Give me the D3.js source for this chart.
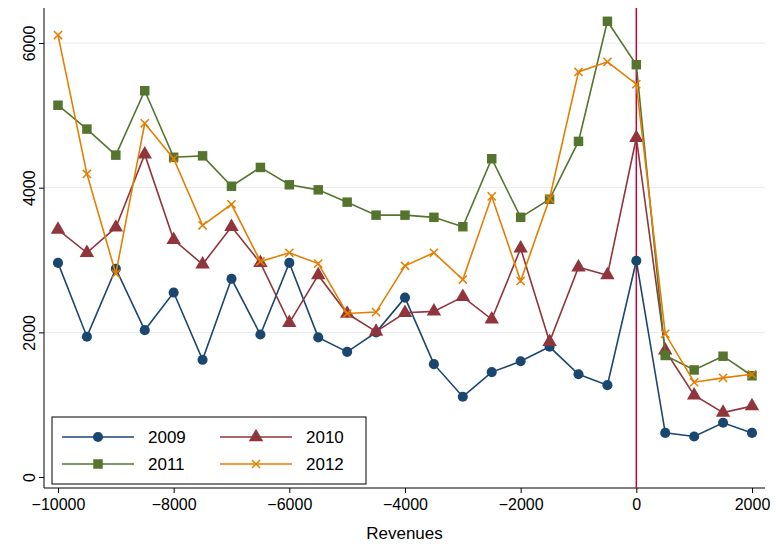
<!DOCTYPE html>
<html><head><meta charset="utf-8">
<script src="https://cdn.jsdelivr.net/npm/d3@7"></script>
<style>body{margin:0;background:#fff}text{font-family:"Liberation Sans",Arial,sans-serif}</style>
</head><body><div id="chart"></div>
<script>
const xs = d3.range(-10000, 2001, 500);
const years = ["2009", "2010", "2011", "2012"];
const v2009 = [2960,1940,2880,2030,2550,1620,2740,1970,2960,1930,1730,2000,2480,1560,1110,1450,1600,1800,1420,1270,2990,610,560,750,610];
const v2010 = [3420,3100,3450,4460,3280,2940,3460,2960,2130,2790,2260,2010,2270,2290,2490,2180,3160,1870,2900,2790,4690,1750,1130,890,980];
const v2011 = [5140,4810,4450,5340,4420,4440,4020,4280,4040,3970,3800,3620,3620,3590,3460,4400,3590,3840,4640,6300,5700,1680,1480,1670,1400];
const v2012 = [6110,4190,2810,4890,4400,3480,3770,2980,3100,2950,2260,2280,2920,3100,2730,3880,2710,3850,5600,5740,5430,1980,1310,1370,1420];
const xTicks = [-10000,-8000,-6000,-4000,-2000,0,2000];
const yTicks = [0,2000,4000,6000];
const series = [v2009, v2010, v2011, v2012];
const colors = ["#1a476f","#90353b","#55752f","#e37e00"];
const shapes = [d3.symbolCircle, d3.symbolTriangle, d3.symbolSquare, d3.symbolX];
const sizes = [80, 90, 90, 45];

const svg = d3.select("#chart").append("svg").attr("width",776).attr("height",546);
const L=44, R=765, T=8, B=488;
const x = d3.scaleLinear().domain([-10242,2225]).range([L,R]);
const y = d3.scaleLinear().domain([-152,6484]).range([B,T]);

// grid
svg.selectAll(".grid").data(yTicks.slice(1)).enter().append("line")
  .attr("x1",L).attr("x2",R).attr("y1",d=>y(d)).attr("y2",d=>y(d))
  .attr("stroke","#eaeaea").attr("stroke-width",1);

// axes
svg.append("g").attr("transform",`translate(0,${B})`)
  .call(d3.axisBottom(x).tickValues(xTicks).tickFormat(d=>d<0?"\u2212"+(-d):d).tickSize(5).tickSizeOuter(0))
  .call(g=>g.selectAll("text").attr("font-size",16).attr("fill","#000").attr("dy","0.85em"))
  .call(g=>g.select(".domain").attr("d",`M${L},0H${R}`));
svg.append("g").attr("transform",`translate(${L},0)`)
  .call(d3.axisLeft(y).tickValues(yTicks).tickFormat(d3.format("d")).tickSize(5).tickSizeOuter(0))
  .call(g=>g.selectAll("text").attr("font-size",16).attr("fill","#000")
    .attr("transform","rotate(-90)").attr("x",0).attr("y",-9).attr("dy","0").attr("text-anchor","middle"))
  .call(g=>g.select(".domain").attr("d",`M0,${T}V${B}`));
svg.append("text").attr("x",(L+R)/2).attr("y",539).attr("text-anchor","middle").attr("font-size",17).text("Revenues");

// zero line
svg.append("line").attr("x1",x(0)).attr("x2",x(0)).attr("y1",T).attr("y2",B)
  .attr("stroke","#c10534").attr("stroke-width",1.5);

const line = d3.line().x((d,i)=>x(xs[i])).y(d=>y(d));
series.forEach((s,k)=>{
  svg.append("path").datum(s).attr("d",line).attr("fill","none")
    .attr("stroke",colors[k]).attr("stroke-width",1.6);
  svg.selectAll(".m"+k).data(s).enter().append("path")
    .attr("transform",(d,i)=>`translate(${x(xs[i])},${y(d)})`)
    .attr("d",d3.symbol().type(shapes[k]).size(sizes[k]))
    .attr("fill",colors[k]).attr("stroke",colors[k]).attr("stroke-width",k==3?1.5:0);
});

// legend
const lg = svg.append("g");
lg.append("rect").attr("x",52).attr("y",417).attr("width",314).attr("height",67)
  .attr("fill","#fff").attr("stroke","#000").attr("stroke-width",1);
years.forEach((yr,k)=>{
  const cx = 62 + (k%2)*158, cy = 437 + Math.floor(k/2)*27;
  lg.append("line").attr("x1",cx).attr("x2",cx+72).attr("y1",cy).attr("y2",cy)
    .attr("stroke",colors[k]).attr("stroke-width",1.6);
  lg.append("path").attr("transform",`translate(${cx+36},${cy})`)
    .attr("d",d3.symbol().type(shapes[k]).size(sizes[k]))
    .attr("fill",colors[k]).attr("stroke",colors[k]).attr("stroke-width",k==3?1.5:0);
  lg.append("text").attr("x",cx+86).attr("y",cy+6).attr("font-size",17).text(yr);
});
</script></body></html>
